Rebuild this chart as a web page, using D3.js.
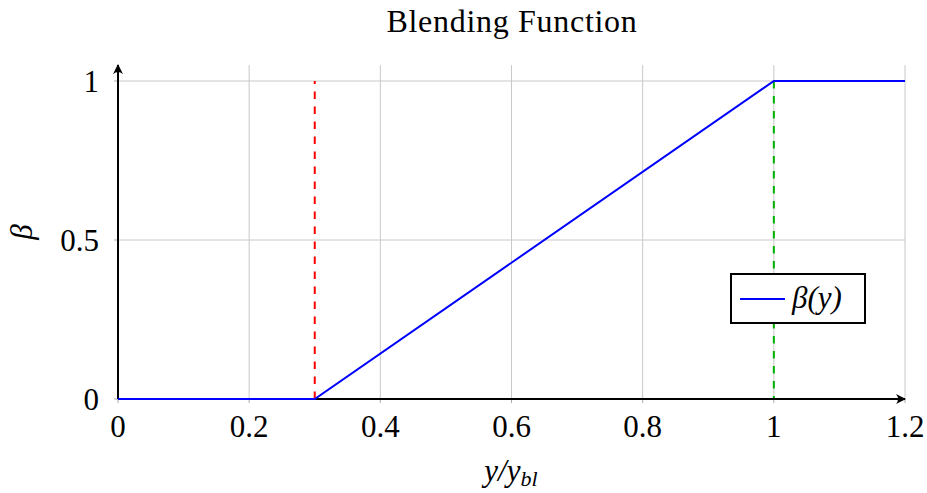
<!DOCTYPE html>
<html><head><meta charset="utf-8">
<script src="https://cdn.jsdelivr.net/npm/d3@7"></script>
<style>body{margin:0;background:#fff}svg{display:block}</style>
</head><body>
<script>
const title = "Blending Function";
const xTicks = [0, 0.2, 0.4, 0.6, 0.8, 1, 1.2];
const xTickLabels = ["0", "0.2", "0.4", "0.6", "0.8", "1", "1.2"];
const yTicks = [0, 0.5, 1];
const yTickLabels = ["0", "0.5", "1"];
const betaX = [0, 0.3, 1, 1.2];
const betaY = [0, 0, 1, 1];
const redX = 0.3, greenX = 1;
const legendLabel = "β(y)";

const W = 927, H = 493;
const svg = d3.select("body").append("svg").attr("width", W).attr("height", H);
const x = d3.scaleLinear().domain([0, 1.2]).range([118, 905]);
const y = d3.scaleLinear().domain([0, 1]).range([399, 81]);
const font = "'Liberation Serif', 'DejaVu Serif', serif";
const fs = 31;

// grid
svg.append("g").selectAll("line").data(xTicks.slice(1)).join("line")
  .attr("x1", d => x(d)).attr("x2", d => x(d)).attr("y1", y(0)).attr("y2", y(1.05))
  .attr("stroke", "#c8c8c8").attr("stroke-width", 1);
svg.append("g").selectAll("line").data(yTicks.slice(1)).join("line")
  .attr("x1", x(0)).attr("x2", x(1.2)).attr("y1", d => y(d)).attr("y2", d => y(d))
  .attr("stroke", "#c8c8c8").attr("stroke-width", 1);
// small tick marks
svg.append("g").selectAll("line").data(xTicks).join("line")
  .attr("x1", d => x(d)).attr("x2", d => x(d)).attr("y1", y(0)).attr("y2", y(0) + 4)
  .attr("stroke", "#aaa").attr("stroke-width", 1);
svg.append("g").selectAll("line").data(yTicks).join("line")
  .attr("x1", x(0) - 4).attr("x2", x(0)).attr("y1", d => y(d)).attr("y2", d => y(d))
  .attr("stroke", "#aaa").attr("stroke-width", 1);

// dashed lines
svg.append("line").attr("x1", x(redX)).attr("x2", x(redX)).attr("y1", y(0)).attr("y2", y(1))
  .attr("stroke", "#ff0000").attr("stroke-width", 2).attr("stroke-dasharray", "7.5,7.5");
svg.append("line").attr("x1", x(greenX)).attr("x2", x(greenX)).attr("y1", y(1)).attr("y2", y(0))
  .attr("stroke", "#00b000").attr("stroke-width", 2).attr("stroke-dasharray", "7.5,7.5");

// axes with arrows
const defs = svg.append("defs");
defs.append("marker").attr("id", "arr").attr("viewBox", "0 0 10 10").attr("refX", 9).attr("refY", 5)
  .attr("markerWidth", 5).attr("markerHeight", 5).attr("orient", "auto").attr("markerUnits", "strokeWidth")
  .append("path").attr("d", "M0,0 Q4,5 0,10 L10,5 Z").attr("fill", "#000");
svg.append("line").attr("x1", x(0)).attr("x2", x(1.2)).attr("y1", y(0)).attr("y2", y(0))
  .attr("stroke", "#000").attr("stroke-width", 2).attr("marker-end", "url(#arr)");
svg.append("line").attr("x1", x(0)).attr("x2", x(0)).attr("y1", y(0)).attr("y2", y(1.05))
  .attr("stroke", "#000").attr("stroke-width", 2).attr("marker-end", "url(#arr)");

// blue line
const pts = betaX.map((d, i) => [d, betaY[i]]);
svg.append("path").attr("d", d3.line().x(d => x(d[0])).y(d => y(d[1]))(pts))
  .attr("fill", "none").attr("stroke", "#0000ff").attr("stroke-width", 2);

// tick labels
svg.append("g").selectAll("text").data(xTicks).join("text")
  .attr("x", d => x(d)).attr("y", 437).attr("text-anchor", "middle")
  .attr("font-family", font).attr("font-size", fs).text((d, i) => xTickLabels[i]);
svg.append("g").selectAll("text").data(yTicks).join("text")
  .attr("x", 99).attr("y", d => y(d) + 11).attr("text-anchor", "end")
  .attr("font-family", font).attr("font-size", fs).text((d, i) => yTickLabels[i]);

// title
svg.append("text").attr("x", 512).attr("y", 32).attr("text-anchor", "middle")
  .attr("font-family", font).attr("font-size", 32).attr("letter-spacing", 0.7).text(title);

// axis labels
const xl = svg.append("text").attr("x", 511).attr("y", 481).attr("text-anchor", "middle")
  .attr("font-family", font).attr("font-size", 31).attr("font-style", "italic");
xl.append("tspan").text("y/y");
xl.append("tspan").attr("font-size", 22).attr("dy", 5).text("bl");
svg.append("text").attr("transform", "translate(32,232) rotate(-90)").attr("text-anchor", "middle")
  .attr("font-family", font).attr("font-size", 31).attr("font-style", "italic").text("β");

// legend
svg.append("rect").attr("x", 731).attr("y", 274).attr("width", 134).attr("height", 49)
  .attr("fill", "#fff").attr("stroke", "#000").attr("stroke-width", 2);
svg.append("line").attr("x1", 740).attr("x2", 785).attr("y1", 299).attr("y2", 299)
  .attr("stroke", "#0000ff").attr("stroke-width", 2);
svg.append("text").attr("x", 792).attr("y", 308).attr("font-family", font).attr("font-size", 31)
  .attr("font-style", "italic").text(legendLabel);
</script>
</body></html>
